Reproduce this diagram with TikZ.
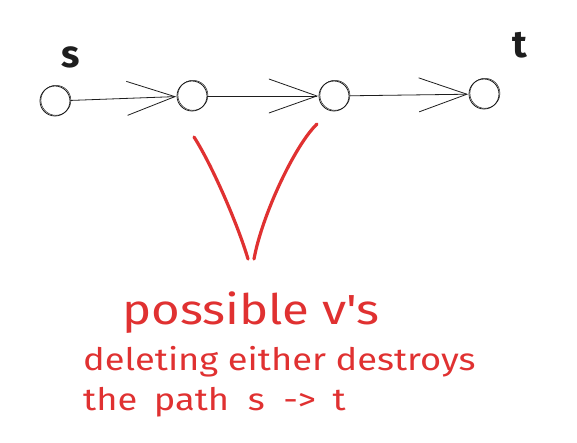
\documentclass[tikz,border=0pt]{standalone}
\usepackage{fontspec}
\setmainfont{Fira Sans}
\newfontfamily\handfont[FakeStretch=1.17]{Fira Sans}
\usetikzlibrary{arrows.meta}
\definecolor{ink}{HTML}{1E1E1E}
\definecolor{sketchred}{HTML}{E03131}
\tikzset{
  vertex/.style={circle, draw=ink, line width=0.8pt, minimum size=30pt, inner sep=0pt,
    postaction={draw=ink, line width=0.5pt, transform canvas={shift={(0.9pt,0.7pt)}}}},
  edge/.style={draw=ink, line width=0.8pt,
    -{Straight Barb[length=48pt, width=34pt, line width=0.8pt]}, shorten >=0.5pt},
  lbl/.style={text=ink, font=\fontsize{38}{40}\selectfont\bfseries, inner sep=0pt},
  note/.style={text=sketchred, anchor=base west, inner sep=0pt},
  vstroke/.style={draw=sketchred, line width=3.2pt, line cap=round, line join=round}
}
\begin{document}
\begin{tikzpicture}[x=1pt, y=-1pt]
\useasboundingbox[fill=white] (0,0) rectangle (577,443);
\node[vertex] (s) at (55,101) {};
\node[vertex] (a) at (192,96) {};
\node[vertex] (b) at (334,96) {};
\node[vertex] (t) at (484,94) {};
\node[lbl] (ls) at (71,57) {s};
\node[lbl] (lt) at (520,45) {t};
\draw[edge] (s) -- (a);
\draw[edge] (a) -- (b);
\draw[edge] (b) -- (t);
\draw[vstroke] (194,137) .. controls (212,165) and (238,225) .. (248,259);
\draw[vstroke] (317,124) .. controls (295,145) and (262,215) .. (254,259);
\node[note, font=\handfont\fontsize{42}{46}\selectfont] (p) at (122,324) {possible v's};
\node[note, font=\handfont\fontsize{31}{36}\selectfont] (d) at (83,370) {deleting either destroys};
\node[note, font=\handfont\fontsize{31}{36}\selectfont] (q) at (83,410) {the\hspace{7pt} path\hspace{9pt} s\hspace{9pt} ->\hspace{7pt} t};
\end{tikzpicture}
\end{document}
